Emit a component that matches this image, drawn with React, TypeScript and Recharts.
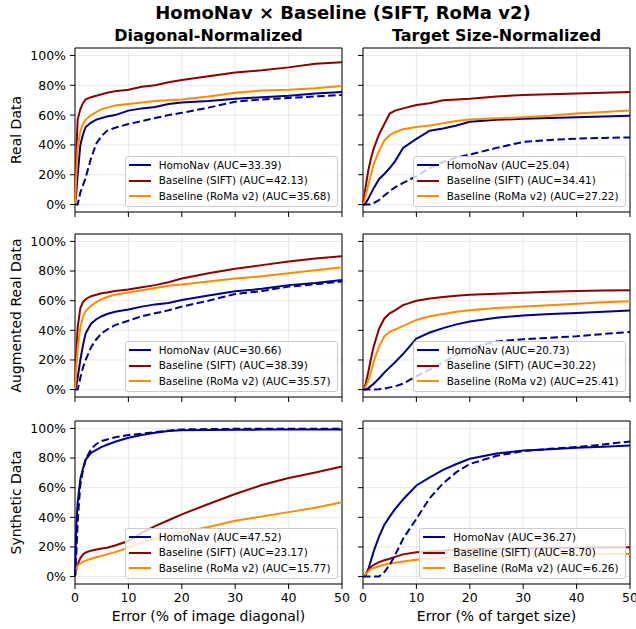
import React from "react";
import {
  LineChart,
  Line,
  XAxis,
  YAxis,
  CartesianGrid,
  ReferenceArea,
} from "recharts";

// shared error grid (% of diagonal / % of target size)
const X = [0, 0.25, 0.5, 1, 1.5, 2, 3, 4, 5, 6, 7.5, 10, 12.5, 15, 17.5, 20, 25, 30, 35, 40, 45, 50];

// Real data, diagonal-normalized
const realDiagHomo = [0, 8, 20, 40, 47, 52, 55, 57, 58, 59, 60, 63, 64.5, 65.5, 67.5, 68.5, 69.5, 71, 72, 73, 74.5, 75.5];
const realDiagDashed = [0, 0, 0, 8, 13, 18, 31, 41, 46, 49.5, 51.5, 54, 56, 58, 60, 61.5, 65, 69, 70.5, 71.5, 72.5, 73.5];
const realDiagSift = [0, 35, 57, 64, 68, 70.5, 72, 73, 74, 75, 76, 77, 79, 80, 82, 83.5, 86, 88.5, 90, 92, 94.5, 95.5];
const realDiagRoma = [0, 20, 38, 49, 54, 57, 60, 62, 64, 65, 66.5, 67.5, 68.5, 69.5, 70, 70.5, 72.5, 75, 76.5, 77, 78, 79.5];

// Real data, target size-normalized
const realTgtHomo = [0, 0, 1, 4, 7.5, 11, 17, 20.5, 24.5, 29, 38, 44, 49.5, 51, 53, 55.5, 56.8, 57.5, 58, 58.5, 59, 59.5];
const realTgtDashed = [0, 0, 0, 0, 0, 1, 3, 6, 9, 11.5, 14.5, 19, 24.5, 28.5, 31.5, 33.5, 38, 42, 43.3, 44.2, 44.7, 45];
const realTgtSift = [0, 6, 12, 23, 31, 37.5, 47, 54, 61, 63, 64.5, 66.7, 68, 70, 70.5, 71, 72.5, 73.5, 74, 74.5, 75, 75.5];
const realTgtRoma = [0, 2, 6, 13.5, 20, 27, 36, 43, 46.5, 48.5, 50.5, 52, 53, 54.5, 56, 57, 57.8, 58.5, 59.5, 61, 62, 63];

// Augmented real data, diagonal-normalized
const augDiagHomo = [0, 3, 8, 20, 30, 38, 44.5, 47.5, 49.5, 51, 52.5, 54, 56, 57.5, 58.5, 60.5, 63.5, 66.3, 68, 70.5, 72, 74];
const augDiagDashed = [0, 0, 0, 8, 15, 20, 28.5, 34, 38, 40.5, 43.5, 46.5, 49.5, 51.5, 53.5, 56, 60, 64.5, 66.5, 69.5, 71, 73];
const augDiagSift = [0, 25, 42, 55, 59, 61, 63, 64, 65, 65.5, 66.5, 67.5, 69, 70.5, 72.5, 75, 78.5, 81.5, 84, 86.5, 88.5, 90];
const augDiagRoma = [0, 15, 28, 42, 49, 53, 56.5, 59, 61, 62.5, 64, 65.5, 67, 68.5, 70, 71, 73, 75, 76.5, 78.5, 80.5, 82.5];

// Augmented real data, target size-normalized
const augTgtHomo = [0, 0, 0, 1, 2.5, 4, 7.5, 11.5, 15, 18.5, 24, 34.5, 38.5, 41.5, 44, 46, 48.5, 50, 51, 51.7, 52.5, 53.3];
const augTgtDashed = [0, 0, 0, 0, 0, 0, 0.3, 0.7, 1.5, 2.2, 4, 9, 13.5, 18.5, 23.5, 28, 32.5, 34, 35, 36, 37.5, 38.9];
const augTgtSift = [0, 1, 4, 12, 21, 29, 41, 48, 51.5, 53.5, 57, 60, 61.5, 62.5, 63.3, 64, 64.7, 65.3, 66, 66.5, 66.8, 67];
const augTgtRoma = [0, 0.5, 2, 6, 12, 19, 29, 36, 39, 40.5, 43, 47, 49.5, 51, 52.5, 53.5, 55, 56, 57, 58, 59, 59.6];

// Synthetic data, diagonal-normalized
const synDiagHomo = [0, 35, 50, 66, 73, 79, 83.5, 85.5, 87.5, 89, 91, 93.7, 95.5, 97, 98.3, 98.8, 99, 99.1, 99.2, 99.2, 99.3, 99.3];
const synDiagDashed = [0, 15, 37, 62, 72, 79, 86, 89.5, 91.5, 92.5, 94, 95.5, 96.5, 97.5, 98.5, 99.3, 99.6, 99.7, 99.8, 99.8, 99.8, 99.8];
const synDiagSift = [0, 5, 8, 12.5, 15, 16.3, 17.5, 18.3, 19, 19.5, 21, 24, 29.5, 34, 38, 42, 49, 55.7, 61.8, 66.5, 70.3, 74.3];
const synDiagRoma = [0, 5, 7.4, 9, 10, 10.8, 12, 13, 14, 15, 16.5, 19.5, 23, 25.5, 28, 30, 33.5, 37.7, 40.5, 43.5, 46.5, 50.2];

// Synthetic data, target size-normalized
const synTgtHomo = [0, 0, 1, 5, 11, 17, 27, 35, 40.5, 45.5, 52, 61.5, 67, 72, 76, 79.5, 83, 85.1, 86, 86.9, 87.7, 88.5];
const synTgtDashed = [0, 0, 0, 0, 0, 0, 0, 3, 8, 14.5, 25.5, 39, 53, 63, 70.5, 76, 81.5, 84.7, 86.2, 87.4, 89.2, 91.2];
const synTgtSift = [0, 0.5, 1.5, 4, 6.5, 8, 9.8, 11, 12, 13.3, 15, 16.4, 17, 17.5, 18, 18.3, 18.8, 19, 19.3, 19.5, 19.7, 19.8];
const synTgtRoma = [0, 0.5, 1.5, 3.5, 5, 5.8, 7, 8, 8.8, 9.3, 10.2, 11.3, 12, 12.5, 12.9, 13.3, 13.7, 14, 14.2, 14.6, 15, 15.3];

// AUC values shown in legends: [HomoNav, SIFT, RoMa v2]
const realDiagAuc = ["33.39", "42.13", "35.68"];
const realTgtAuc = ["25.04", "34.41", "27.22"];
const augDiagAuc = ["30.66", "38.39", "35.57"];
const augTgtAuc = ["20.73", "30.22", "25.41"];
const synDiagAuc = ["47.52", "23.17", "15.77"];
const synTgtAuc = ["36.27", "8.70", "6.26"];

const TITLE = "HomoNav × Baseline (SIFT, RoMa v2)";
const COL_TITLES = ["Diagonal-Normalized", "Target Size-Normalized"];
const ROW_LABELS = ["Real Data", "Augmented Real Data", "Synthetic Data"];
const X_LABELS = ["Error (% of image diagonal)", "Error (% of target size)"];
const X_TICKS = [0, 10, 20, 30, 40, 50];
const Y_TICKS = [0, 20, 40, 60, 80, 100];

const BLUE = "#00008b";
const RED = "#8b0000";
const ORANGE = "#ff8c00";
const FONT = "'DejaVu Sans', Verdana, sans-serif";

// plot-area geometry
const PW = 267;
const COL_X = [75, 363];
const ROW_Y = [48, 234, 421];
const ROW_H = [164, 163, 163];
const ML = 60;
const MT = 4;
const MR = 14;
const MB = 30;

type PanelData = {
  homo: number[];
  dashed: number[];
  sift: number[];
  roma: number[];
  auc: string[];
};

const PANELS: PanelData[][] = [
  [
    { homo: realDiagHomo, dashed: realDiagDashed, sift: realDiagSift, roma: realDiagRoma, auc: realDiagAuc },
    { homo: realTgtHomo, dashed: realTgtDashed, sift: realTgtSift, roma: realTgtRoma, auc: realTgtAuc },
  ],
  [
    { homo: augDiagHomo, dashed: augDiagDashed, sift: augDiagSift, roma: augDiagRoma, auc: augDiagAuc },
    { homo: augTgtHomo, dashed: augTgtDashed, sift: augTgtSift, roma: augTgtRoma, auc: augTgtAuc },
  ],
  [
    { homo: synDiagHomo, dashed: synDiagDashed, sift: synDiagSift, roma: synDiagRoma, auc: synDiagAuc },
    { homo: synTgtHomo, dashed: synTgtDashed, sift: synTgtSift, roma: synTgtRoma, auc: synTgtAuc },
  ],
];

function LegendBox({ auc }: { auc: string[] }) {
  const items = [
    { color: BLUE, label: `HomoNav (AUC=${auc[0]})` },
    { color: RED, label: `Baseline (SIFT) (AUC=${auc[1]})` },
    { color: ORANGE, label: `Baseline (RoMa v2) (AUC=${auc[2]})` },
  ];
  return (
    <div
      style={{
        position: "absolute",
        right: MR + 4.5,
        bottom: MB + 5,
        background: "rgba(255,255,255,0.8)",
        border: "1px solid #cccccc",
        borderRadius: 3,
        padding: "1px 6px 2px 3px",
        fontFamily: FONT,
        fontSize: 10.4,
        lineHeight: "15.5px",
        color: "#000",
        whiteSpace: "nowrap",
      }}
    >
      {items.map((it) => (
        <div key={it.label} style={{ display: "flex", alignItems: "center" }}>
          <svg width={22} height={4} style={{ marginRight: 8, display: "block" }}>
            <line x1={0} y1={2} x2={22} y2={2} stroke={it.color} strokeWidth={2} />
          </svg>
          <span>{it.label}</span>
        </div>
      ))}
    </div>
  );
}

function Panel({ p, row, col }: { p: PanelData; row: number; col: number }) {
  const h = ROW_H[row];
  const w = ML + PW + MR;
  const H = MT + h + MB;
  const showX = row === 2;
  const showY = col === 0;
  const data = X.map((x, i) => ({
    x,
    homo: p.homo[i],
    dashed: p.dashed[i],
    sift: p.sift[i],
    roma: p.roma[i],
  }));
  const tickStyle = { fontSize: 12.5, fill: "#000", fontFamily: FONT };

  return (
    <div
      style={{
        position: "absolute",
        left: COL_X[col] - ML,
        top: ROW_Y[row] - MT,
        width: w,
        height: H,
      }}
    >
      <LineChart width={w} height={H} data={data} margin={{ top: MT, right: MR, left: 0, bottom: 0 }}>
        <CartesianGrid stroke="#b0b0b0" strokeOpacity={0.35} strokeWidth={0.8} />
        <XAxis
          dataKey="x"
          type="number"
          domain={[0, 50]}
          ticks={X_TICKS}
          interval={0}
          height={MB}
          axisLine={false}
          tickLine={{ stroke: "#000" }}
          tickSize={5}
          tickMargin={4}
          tick={tickStyle}
          tickFormatter={(v) => (showX ? String(v) : "")}
        />
        <YAxis
          type="number"
          domain={[-5, 105]}
          ticks={Y_TICKS}
          interval={0}
          width={ML}
          axisLine={false}
          tickLine={{ stroke: "#000" }}
          tickSize={5}
          tickMargin={4}
          tick={tickStyle}
          tickFormatter={(v) => (showY ? `${v}%` : "")}
        />
        <Line dataKey="homo" stroke={BLUE} strokeWidth={2} dot={false} activeDot={false} isAnimationActive={false} />
        <Line dataKey="sift" stroke={RED} strokeWidth={2} dot={false} activeDot={false} isAnimationActive={false} />
        <Line dataKey="roma" stroke={ORANGE} strokeWidth={2} dot={false} activeDot={false} isAnimationActive={false} />
        <Line
          dataKey="dashed"
          stroke={BLUE}
          strokeWidth={2}
          strokeDasharray="7.5 3.5"
          dot={false}
          activeDot={false}
          isAnimationActive={false}
        />
        <ReferenceArea x1={0} x2={50} y1={-5} y2={105} fill="none" stroke="#000" strokeWidth={1} ifOverflow="visible" />
      </LineChart>
      <LegendBox auc={p.auc} />
    </div>
  );
}

export default function App() {
  return (
    <div
      style={{
        position: "absolute",
        left: 0,
        top: 0,
        width: 636,
        height: 629,
        background: "#fff",
        fontFamily: FONT,
        overflow: "hidden",
      }}
    >
      <svg width={636} height={629} style={{ position: "absolute", left: 0, top: 0 }}>
        <text x={343} y={19} textAnchor="middle" fontSize={18} fontWeight="bold" fontFamily={FONT} fill="#000">
          {TITLE}
        </text>
        {COL_TITLES.map((t, c) => (
          <text
            key={t}
            x={COL_X[c] + PW / 2}
            y={41}
            textAnchor="middle"
            fontSize={16}
            fontWeight="bold"
            fontFamily={FONT}
            fill="#000"
          >
            {t}
          </text>
        ))}
        {ROW_LABELS.map((t, r) => {
          const cy = ROW_Y[r] + ROW_H[r] / 2;
          return (
            <text
              key={t}
              x={0}
              y={0}
              transform={`translate(21, ${cy}) rotate(-90)`}
              textAnchor="middle"
              fontSize={14}
              fontFamily={FONT}
              fill="#000"
            >
              {t}
            </text>
          );
        })}
        {X_LABELS.map((t, c) => (
          <text
            key={t}
            x={COL_X[c] + PW / 2}
            y={620.5}
            textAnchor="middle"
            fontSize={14}
            fontFamily={FONT}
            fill="#000"
          >
            {t}
          </text>
        ))}
      </svg>
      {PANELS.map((rowPanels, r) =>
        rowPanels.map((p, c) => <Panel key={`${r}-${c}`} p={p} row={r} col={c} />)
      )}
    </div>
  );
}
